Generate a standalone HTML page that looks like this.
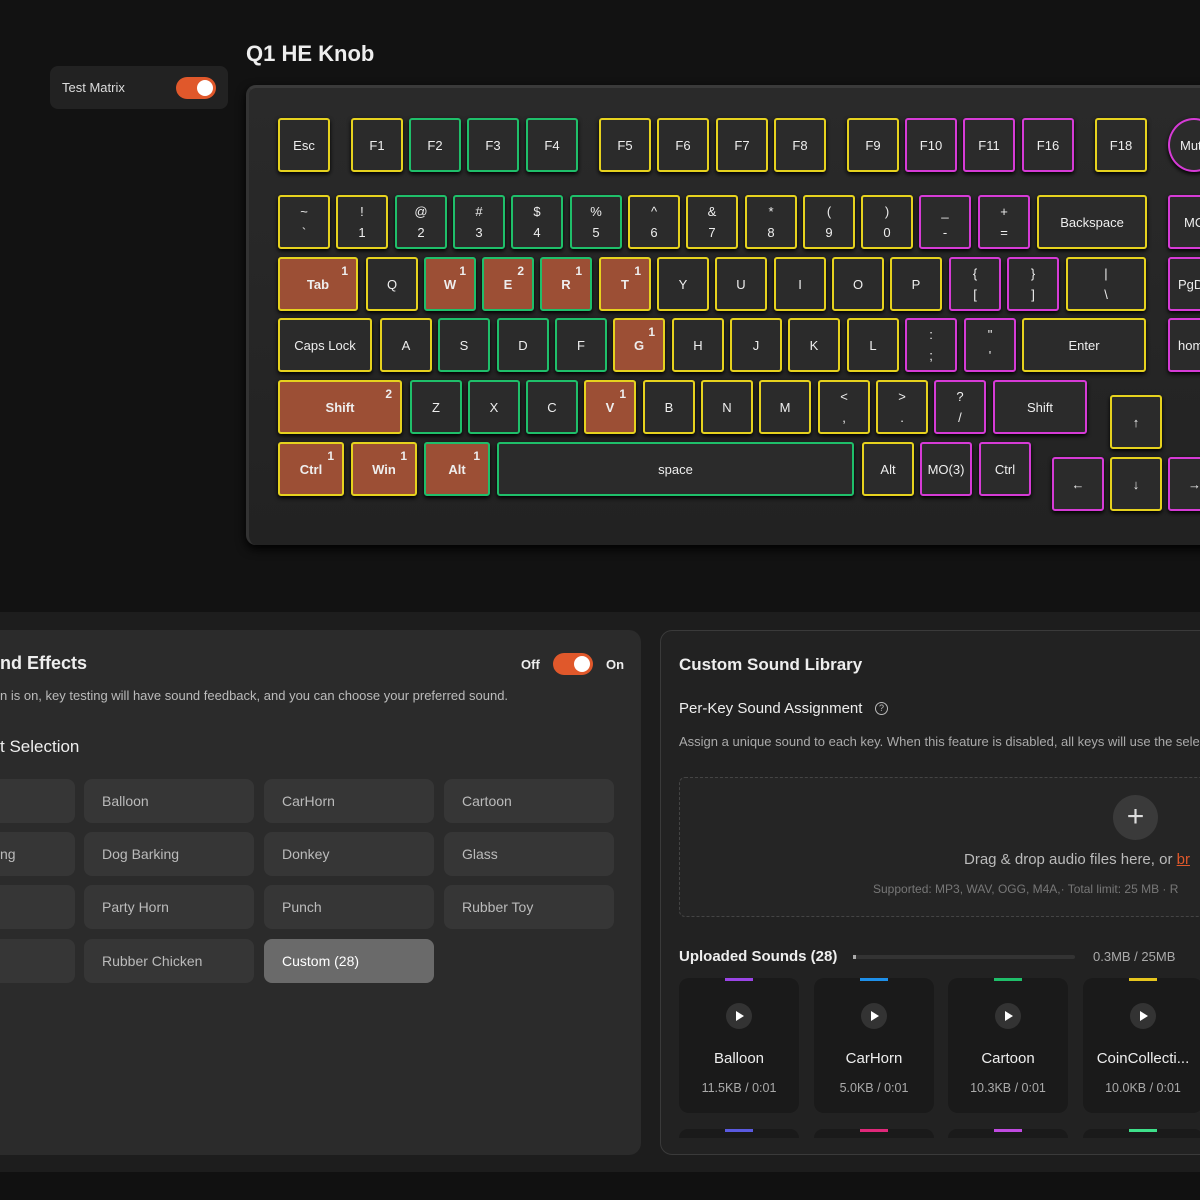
<!DOCTYPE html><html><head><meta charset="utf-8"><style>
*{box-sizing:border-box;margin:0;padding:0}
body{width:1200px;height:1200px;overflow:hidden;background:#121212;font-family:"Liberation Sans",sans-serif;color:#eee;position:relative}
.a{position:absolute}
.kb{position:absolute;left:246px;top:85px;width:990px;height:460px;background:linear-gradient(#2a2a2a,#222);border-radius:10px;border-top:3px solid #3a3a3a;border-left:3px solid #333;box-shadow:0 4px 10px #000}
.k{position:absolute;width:52px;height:54px;border:2px solid #e6d21e;border-radius:3px;background:#2b2b2b;color:#eee;font-size:13px;display:flex;align-items:center;justify-content:center;text-align:center;line-height:21px;box-shadow:0 2px 4px #000}
.g{border-color:#1fbf6a}.m{border-color:#d63bd6}.o{background:#9c4f35;font-weight:bold}
.k sup{position:absolute;right:8px;top:6px;font-size:12px;line-height:12px}
.tg{position:absolute;width:40px;height:22px;border-radius:11px;background:#e0582b}
.tg:after{content:"";position:absolute;right:3px;top:3px;width:16px;height:16px;border-radius:50%;background:#fff}
.b{position:absolute;width:170px;height:44px;background:#363636;border-radius:8px;color:#bbb;font-size:14px;line-height:44px;padding-left:18px}
.c{position:absolute;width:120px;height:135px;background:#1a1a1a;border-radius:10px;text-align:center}
.c i{position:absolute;left:46px;top:0;width:28px;height:3px}
.c b{position:absolute;left:47px;top:25px;width:26px;height:26px;border-radius:50%;background:#333}
.c b:after{content:"";position:absolute;left:10px;top:8px;border-left:8px solid #fff;border-top:5px solid transparent;border-bottom:5px solid transparent}
.c .n{position:absolute;top:72px;width:100%;font-size:15px;color:#eee}
.c .s{position:absolute;top:103px;width:100%;font-size:12.5px;color:#aaa}
</style></head><body>
<div class="a" style="left:50px;top:66px;width:178px;height:43px;background:#222;border-radius:8px"></div>
<div class="a" style="left:62px;top:80px;font-size:13px;color:#ddd">Test Matrix</div>
<div class="tg" style="left:176px;top:77px"></div>
<div class="a" style="left:246px;top:41px;font-size:22px;font-weight:bold">Q1 HE Knob</div>
<div class="kb"></div>
<!-- F row -->
<div class="k" style="left:278px;top:118px">Esc</div>
<div class="k" style="left:351px;top:118px">F1</div>
<div class="k g" style="left:409px;top:118px">F2</div>
<div class="k g" style="left:467px;top:118px">F3</div>
<div class="k g" style="left:526px;top:118px">F4</div>
<div class="k" style="left:599px;top:118px">F5</div>
<div class="k" style="left:657px;top:118px">F6</div>
<div class="k" style="left:716px;top:118px">F7</div>
<div class="k" style="left:774px;top:118px">F8</div>
<div class="k" style="left:847px;top:118px">F9</div>
<div class="k m" style="left:905px;top:118px">F10</div>
<div class="k m" style="left:963px;top:118px">F11</div>
<div class="k m" style="left:1022px;top:118px">F16</div>
<div class="k" style="left:1095px;top:118px">F18</div>
<div class="k m" style="left:1168px;top:118px;border-radius:50%;justify-content:flex-start;padding-left:10px">Mut</div>
<!-- row1 -->
<div class="k" style="left:278px;top:195px">~<br>`</div>
<div class="k" style="left:336px;top:195px">!<br>1</div>
<div class="k g" style="left:395px;top:195px">@<br>2</div>
<div class="k g" style="left:453px;top:195px">#<br>3</div>
<div class="k g" style="left:511px;top:195px">$<br>4</div>
<div class="k g" style="left:570px;top:195px">%<br>5</div>
<div class="k" style="left:628px;top:195px">^<br>6</div>
<div class="k" style="left:686px;top:195px">&amp;<br>7</div>
<div class="k" style="left:745px;top:195px">*<br>8</div>
<div class="k" style="left:803px;top:195px">(<br>9</div>
<div class="k" style="left:861px;top:195px">)<br>0</div>
<div class="k m" style="left:919px;top:195px">_<br>-</div>
<div class="k m" style="left:978px;top:195px">+<br>=</div>
<div class="k" style="left:1037px;top:195px;width:110px">Backspace</div>
<div class="k m" style="left:1168px;top:195px;justify-content:flex-start;padding-left:14px">MO</div>
<!-- row2 -->
<div class="k o" style="left:278px;top:257px;width:80px">Tab<sup>1</sup></div>
<div class="k" style="left:366px;top:257px">Q</div>
<div class="k g o" style="left:424px;top:257px">W<sup>1</sup></div>
<div class="k g o" style="left:482px;top:257px">E<sup>2</sup></div>
<div class="k g o" style="left:540px;top:257px">R<sup>1</sup></div>
<div class="k o" style="left:599px;top:257px">T<sup>1</sup></div>
<div class="k" style="left:657px;top:257px">Y</div>
<div class="k" style="left:715px;top:257px">U</div>
<div class="k" style="left:774px;top:257px">I</div>
<div class="k" style="left:832px;top:257px">O</div>
<div class="k" style="left:890px;top:257px">P</div>
<div class="k m" style="left:949px;top:257px">{<br>[</div>
<div class="k m" style="left:1007px;top:257px">}<br>]</div>
<div class="k" style="left:1066px;top:257px;width:80px">|<br>\</div>
<div class="k m" style="left:1168px;top:257px;justify-content:flex-start;padding-left:8px">PgD</div>
<!-- row3 -->
<div class="k" style="left:278px;top:318px;width:94px">Caps Lock</div>
<div class="k" style="left:380px;top:318px">A</div>
<div class="k g" style="left:438px;top:318px">S</div>
<div class="k g" style="left:497px;top:318px">D</div>
<div class="k g" style="left:555px;top:318px">F</div>
<div class="k o" style="left:613px;top:318px">G<sup>1</sup></div>
<div class="k" style="left:672px;top:318px">H</div>
<div class="k" style="left:730px;top:318px">J</div>
<div class="k" style="left:788px;top:318px">K</div>
<div class="k" style="left:847px;top:318px">L</div>
<div class="k m" style="left:905px;top:318px">:<br>;</div>
<div class="k m" style="left:964px;top:318px">"<br>'</div>
<div class="k" style="left:1022px;top:318px;width:124px">Enter</div>
<div class="k m" style="left:1168px;top:318px;justify-content:flex-start;padding-left:8px">hom</div>
<!-- row4 -->
<div class="k o" style="left:278px;top:380px;width:124px">Shift<sup>2</sup></div>
<div class="k g" style="left:410px;top:380px">Z</div>
<div class="k g" style="left:468px;top:380px">X</div>
<div class="k g" style="left:526px;top:380px">C</div>
<div class="k o" style="left:584px;top:380px">V<sup>1</sup></div>
<div class="k" style="left:643px;top:380px">B</div>
<div class="k" style="left:701px;top:380px">N</div>
<div class="k" style="left:759px;top:380px">M</div>
<div class="k" style="left:818px;top:380px">&lt;<br>,</div>
<div class="k" style="left:876px;top:380px">&gt;<br>.</div>
<div class="k m" style="left:934px;top:380px">?<br>/</div>
<div class="k m" style="left:993px;top:380px;width:94px">Shift</div>
<div class="k" style="left:1110px;top:395px">↑</div>
<!-- row5 -->
<div class="k o" style="left:278px;top:442px;width:66px">Ctrl<sup>1</sup></div>
<div class="k o" style="left:351px;top:442px;width:66px">Win<sup>1</sup></div>
<div class="k g o" style="left:424px;top:442px;width:66px">Alt<sup>1</sup></div>
<div class="k g" style="left:497px;top:442px;width:357px">space</div>
<div class="k" style="left:862px;top:442px">Alt</div>
<div class="k m" style="left:920px;top:442px">MO(3)</div>
<div class="k m" style="left:979px;top:442px">Ctrl</div>
<div class="k m" style="left:1052px;top:457px">←</div>
<div class="k" style="left:1110px;top:457px">↓</div>
<div class="k m" style="left:1168px;top:457px;justify-content:flex-start;padding-left:18px">→</div>
<!-- bottom section -->
<div class="a" style="left:0;top:612px;width:1200px;height:560px;background:#1d1d1d"></div>
<div class="a" style="left:-20px;top:630px;width:661px;height:525px;background:#2b2b2b;border-radius:12px"></div>
<div class="a" style="left:0;top:653px;font-size:18px;font-weight:bold">nd Effects</div>
<div class="a" style="left:521px;top:657px;font-size:13px;font-weight:bold">Off</div>
<div class="tg" style="left:553px;top:653px"></div>
<div class="a" style="left:606px;top:657px;font-size:13px;font-weight:bold">On</div>
<div class="a" style="left:0;top:688px;font-size:13px;color:#bbb">n is on, key testing will have sound feedback, and you can choose your preferred sound.</div>
<div class="a" style="left:0;top:737px;font-size:17px">t Selection</div>
<div class="b" style="left:-95px;top:779px"></div>
<div class="b" style="left:84px;top:779px">Balloon</div>
<div class="b" style="left:264px;top:779px">CarHorn</div>
<div class="b" style="left:444px;top:779px">Cartoon</div>
<div class="b" style="left:-95px;top:832px;padding-left:95px">ng</div>
<div class="b" style="left:84px;top:832px">Dog Barking</div>
<div class="b" style="left:264px;top:832px">Donkey</div>
<div class="b" style="left:444px;top:832px">Glass</div>
<div class="b" style="left:-95px;top:885px"></div>
<div class="b" style="left:84px;top:885px">Party Horn</div>
<div class="b" style="left:264px;top:885px">Punch</div>
<div class="b" style="left:444px;top:885px">Rubber Toy</div>
<div class="b" style="left:-95px;top:939px"></div>
<div class="b" style="left:84px;top:939px">Rubber Chicken</div>
<div class="b" style="left:264px;top:939px;background:#6a6a6a;color:#fff">Custom (28)</div>
<div class="a" style="left:660px;top:630px;width:560px;height:525px;background:#222;border:1px solid #3a3a3a;border-radius:12px;overflow:hidden">
<div class="a" style="left:18px;top:24px;font-size:17px;font-weight:bold">Custom Sound Library</div>
<div class="a" style="left:18px;top:69px;font-size:15px">Per-Key Sound Assignment</div>
<div class="a" style="left:214px;top:71px;width:13px;height:13px;border:1px solid #bbb;border-radius:50%;font-size:9px;line-height:11px;text-align:center;color:#bbb">?</div>
<div class="a" style="left:18px;top:103px;font-size:13px;color:#aaa;white-space:nowrap">Assign a unique sound to each key. When this feature is disabled, all keys will use the sele</div>
<div class="a" style="left:18px;top:146px;width:560px;height:140px;border:1px dashed #444;border-radius:6px;background:#252525"></div>
<div class="a" style="left:452px;top:164px;width:45px;height:45px;border-radius:50%;background:#3a3a3a;font-size:30px;line-height:43px;text-align:center;color:#ddd">+</div>
<div class="a" style="left:303px;top:220px;font-size:15px;color:#bbb;white-space:nowrap">Drag &amp; drop audio files here, or <span style="color:#e0582b;text-decoration:underline">br</span></div>
<div class="a" style="left:212px;top:251px;font-size:12px;color:#777;white-space:nowrap">Supported: MP3, WAV, OGG, M4A,· Total limit: 25 MB · R</div>
<div class="a" style="left:18px;top:317px;font-size:15px;font-weight:bold">Uploaded Sounds (28)</div>
<div class="a" style="left:192px;top:324px;width:222px;height:4px;border-radius:2px;background:#333"><div style="width:3px;height:4px;background:#aaa"></div></div>
<div class="a" style="left:432px;top:318px;font-size:13px;color:#aaa">0.3MB / 25MB</div>
<div class="c" style="left:18px;top:347px"><i style="background:#9b45e6"></i><b></b><div class="n">Balloon</div><div class="s">11.5KB / 0:01</div></div>
<div class="c" style="left:153px;top:347px"><i style="background:#1e90ea"></i><b></b><div class="n">CarHorn</div><div class="s">5.0KB / 0:01</div></div>
<div class="c" style="left:287px;top:347px"><i style="background:#1fbf6a"></i><b></b><div class="n">Cartoon</div><div class="s">10.3KB / 0:01</div></div>
<div class="c" style="left:422px;top:347px"><i style="background:#e6c61e"></i><b></b><div class="n">CoinCollecti...</div><div class="s">10.0KB / 0:01</div></div>
<div class="c" style="left:18px;top:498px;height:9px;border-radius:10px 10px 0 0"><i style="background:#5a5ae0"></i></div>
<div class="c" style="left:153px;top:498px;height:9px;border-radius:10px 10px 0 0"><i style="background:#e0287a"></i></div>
<div class="c" style="left:287px;top:498px;height:9px;border-radius:10px 10px 0 0"><i style="background:#c04ae0"></i></div>
<div class="c" style="left:422px;top:498px;height:9px;border-radius:10px 10px 0 0"><i style="background:#3ee08a"></i></div>
</div>
<div class="a" style="left:0;top:1172px;width:1200px;height:28px;background:#111"></div>
</body></html>
